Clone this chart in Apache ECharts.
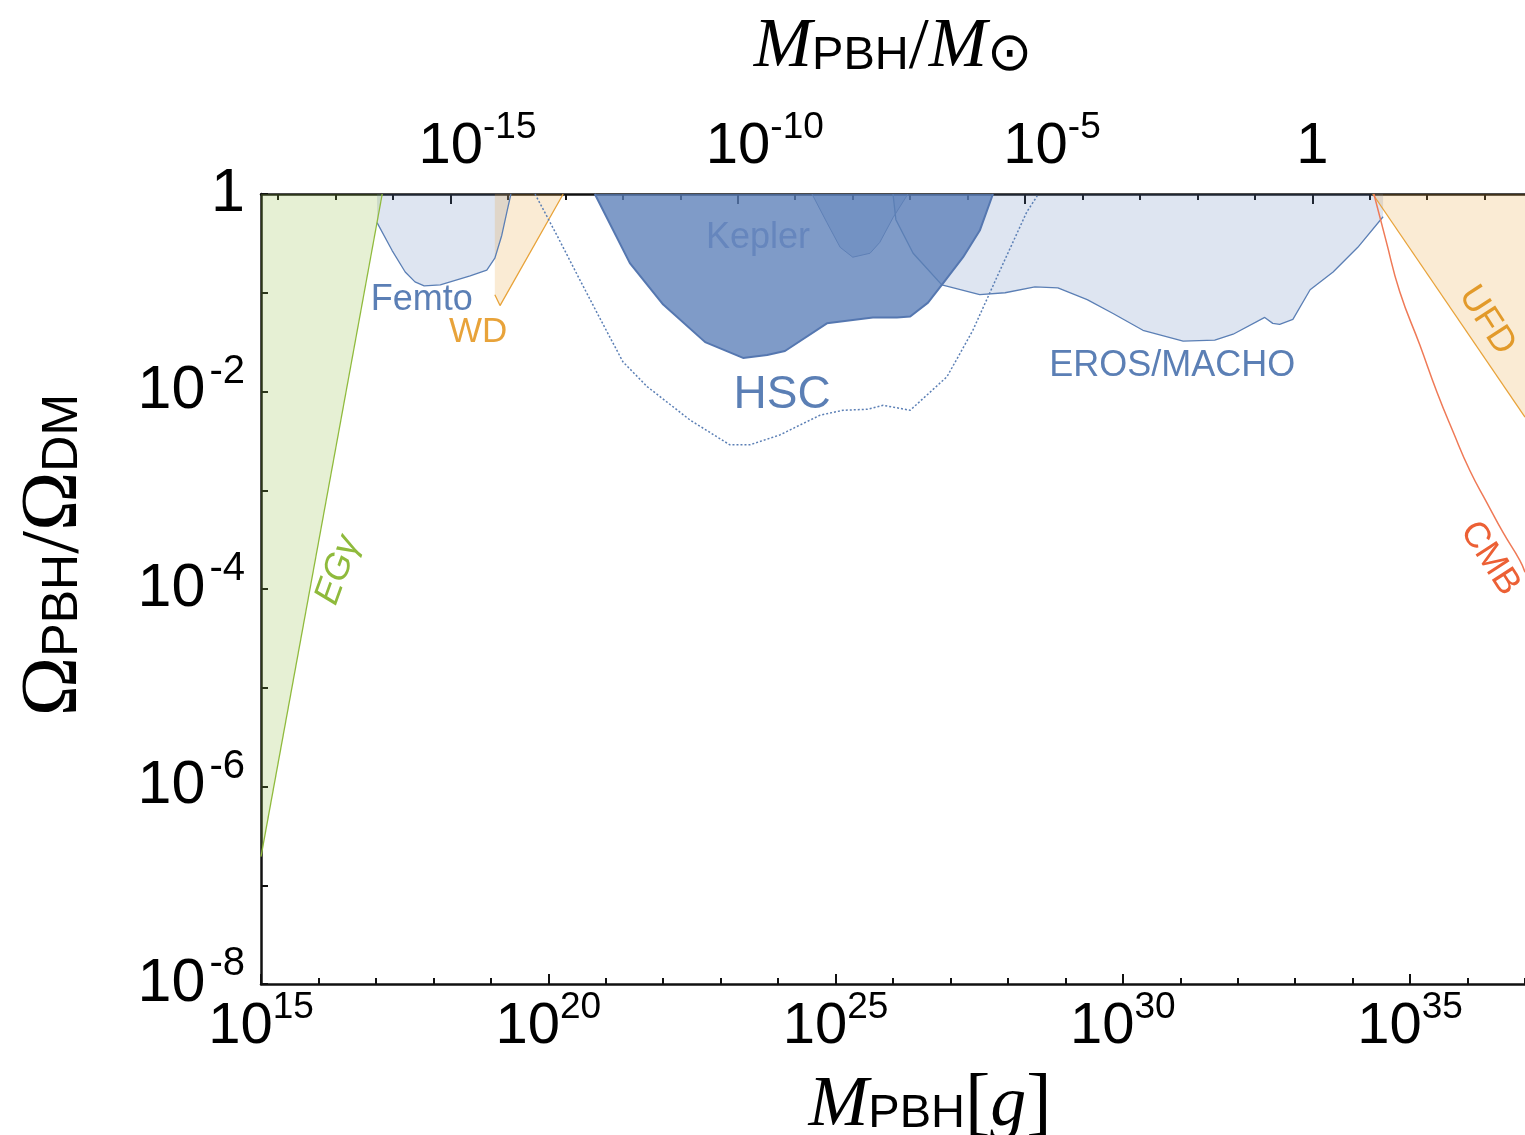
<!DOCTYPE html>
<html>
<head>
<meta charset="utf-8">
<script src="https://cdn.jsdelivr.net/npm/echarts@6/dist/echarts.min.js"></script>
<style>
html,body{margin:0;padding:0;background:#fff;}
#chart{width:1525px;height:1135px;}
</style>
</head>
<body>
<div id="chart"></div>
<script>
// all values are log10: x = log10(M_PBH / g), y = log10(Omega_PBH / Omega_DM)
var MSUN_LOG = 33.2986;   // log10(M_sun in g), for the top axis

var xTicksMain = [15, 20, 25, 30, 35];
var yTicksMain = [-8, -6, -4, -2, 0];
var topTicksMain = [-15, -10, -5, 0];
var topTicksAll = [-18,-17,-16,-15,-14,-13,-12,-11,-10,-9,-8,-7,-6,-5,-4,-3,-2,-1,0,1,2,3];

// extragalactic gamma rays
var egLogM = [15.0, 17.11];
var egLogF = [-6.71, 0];

// femtolensing
var femtoLogM = [17.02, 17.28, 17.51, 17.68, 17.84, 18.12, 18.64, 18.93, 19.07, 19.19, 19.28, 19.35];
var femtoLogF = [-0.29, -0.57, -0.79, -0.89, -0.93, -0.92, -0.83, -0.77, -0.65, -0.42, -0.18, 0];

// white dwarfs
var wdLogM = [19.07, 19.16, 20.26];
var wdLogF = [-1.02, -1.13, 0];

// HSC (solid region)
var hscLogM = [20.81, 21.42, 22.00, 22.73, 23.39, 23.81, 24.12, 24.85, 25.65, 26.07, 26.30, 26.61, 26.85, 27.22, 27.51, 27.74];
var hscLogF = [0, -0.70, -1.12, -1.50, -1.66, -1.63, -1.59, -1.31, -1.25, -1.25, -1.24, -1.10, -0.92, -0.64, -0.37, 0];

// Kepler
var keplerLogM = [24.59, 24.85, 25.08, 25.30, 25.60, 25.77, 26.00, 26.26];
var keplerLogF = [0, -0.29, -0.54, -0.64, -0.60, -0.49, -0.24, 0];

// EROS / MACHO
var erosLogM = [26.00, 26.05, 26.35, 26.85, 27.51, 27.95, 28.47, 28.87, 29.38, 29.83, 30.35, 31.05, 31.60, 31.92, 32.47, 32.61, 32.73, 32.96, 33.26, 33.66, 34.09, 34.53];
var erosLogF = [0, -0.26, -0.60, -0.92, -1.02, -1.00, -0.94, -0.95, -1.07, -1.21, -1.38, -1.49, -1.48, -1.42, -1.25, -1.31, -1.32, -1.27, -0.97, -0.79, -0.54, -0.23];

// HSC projection (dotted)
var hscDotLogM = [19.77, 20.17, 20.55, 20.90, 21.30, 21.72, 22.47, 23.16, 23.51, 24.03, 24.73, 25.13, 25.55, 25.83, 26.30, 26.94, 27.39, 27.81, 28.33, 28.51];
var hscDotLogF = [0, -0.44, -0.87, -1.26, -1.70, -1.95, -2.29, -2.54, -2.54, -2.44, -2.24, -2.19, -2.18, -2.14, -2.19, -1.85, -1.38, -0.84, -0.18, -0.02];

// ultra-faint dwarfs
var ufdLogM = [34.35, 37.0];
var ufdLogF = [0, -2.26];

// CMB
var cmbLogM = [34.37, 34.58, 34.82, 35.17, 35.47, 35.75, 36.04, 36.34, 36.62, 36.91, 37.0];
var cmbLogF = [0, -0.47, -0.99, -1.53, -2.01, -2.41, -2.80, -3.13, -3.43, -3.71, -3.83];

var BLUE = '#5b7fb5';
var ORANGE = '#e8a33a';
var GREEN = '#8fba3c';
var RED = '#ef7a57';

function pairs(xs, ys) {
    var out = [];
    for (var i = 0; i < xs.length; i++) {
        out.push([xs[i], ys[i]]);
    }
    return out;
}

function region(name, xs, ys, line, fill, lw) {
    return {
        name: name, type: 'line', data: pairs(xs, ys),
        xAxisIndex: 0, yAxisIndex: 0,
        symbol: 'none', silent: true,
        lineStyle: {color: line, width: lw || 1.3},
        areaStyle: {color: fill, origin: 'end', opacity: 1}
    };
}

var sans = 'Liberation Sans, Arial, Helvetica, sans-serif';
var serif = 'Liberation Serif, Times New Roman, serif';

var tickRich = {
    b: {fontSize: 58, fontFamily: sans, color: '#000'},
    p: {fontSize: 58, fontFamily: sans, color: '#000', padding: [0, 0, 0, 54]},
    s: {fontSize: 37, fontFamily: sans, color: '#000', padding: [0, 0, 38, 0]}
};
var yTickRich = {
    b: {fontSize: 61, fontFamily: sans, color: '#000'},
    s: {fontSize: 40, fontFamily: sans, color: '#000', padding: [0, 0, 40, 4]}
};

function nameStyles(big, sub) {
    return {
        first: {fontSize: big, fontFamily: serif, fontStyle: 'italic', color: '#000'},
        m: {fontSize: big, fontFamily: serif, fontStyle: 'italic', color: '#000'},
        o: {fontSize: big, fontFamily: serif, color: '#000'},
        sub: {fontSize: sub, fontFamily: sans, color: '#000', padding: [16, 0, 0, 0]},
        sl: {fontSize: big + 2, fontFamily: serif, color: '#000'},
        br: {fontSize: big + 4, fontFamily: serif, color: '#000'},
        sun: {fontSize: 54, fontFamily: 'DejaVu Sans', color: '#000', padding: [16, 0, 0, 0]}
    };
}

var bottomRich = nameStyles(72, 47);
bottomRich.first.padding = [0, 0, 0, 74];
var topRich = nameStyles(70, 47);
var leftRich = nameStyles(80, 50);
leftRich.first = {fontSize: 80, fontFamily: serif, color: '#000', padding: [0, 0, 0, 68]};

var axisLine = {show: true, onZero: false, lineStyle: {color: '#111', width: 2.5}};
var noLine = {show: false, onZero: false};
var tickLine = {color: '#111', width: 2};

var chart = echarts.init(document.getElementById('chart'));

var option = {
    animation: false,
    backgroundColor: '#fff',
    grid: [
        {left: 261, right: 0, top: 194, bottom: 151, containLabel: false, outerBoundsMode: 'none'},
        {left: 261, right: 0, top: 194, bottom: 151, containLabel: false, outerBoundsMode: 'none'}
    ],
    xAxis: [
        {
            type: 'value', gridIndex: 0, position: 'bottom',
            min: 15, max: 37, interval: 1,
            axisLine: axisLine,
            axisTick: {inside: true, length: 6, lineStyle: tickLine},
            splitLine: {show: false},
            axisLabel: {
                customValues: xTicksMain, margin: 5, rich: tickRich,
                formatter: function (v) { return '{b|10}{s|' + v + '}'; }
            },
            name: '{first|M}{sub|PBH}{br|[}{m|g}{br|]}',
            nameLocation: 'middle', nameGap: 84,
            nameTextStyle: {rich: bottomRich}
        },
        {
            type: 'value', gridIndex: 0, position: 'top',
            min: 15 - MSUN_LOG, max: 37 - MSUN_LOG,
            axisLine: axisLine,
            axisTick: {inside: true, length: 6, customValues: topTicksAll, lineStyle: tickLine},
            splitLine: {show: false},
            axisLabel: {
                customValues: topTicksMain, margin: 10, rich: tickRich,
                formatter: function (v) { return v === 0 ? '{b|1}{s|\u200b}' : '{p|10}{s|' + v + '}'; }
            },
            name: '{first|M}{sub|PBH}{sl|/}{m|M}{sun|⊙}',
            nameLocation: 'middle', nameGap: 110,
            nameTextStyle: {rich: topRich}
        },
        {
            type: 'value', gridIndex: 1, position: 'bottom',
            min: 15, max: 37,
            axisLine: noLine,
            axisTick: {inside: true, length: 10, customValues: xTicksMain, lineStyle: tickLine},
            splitLine: {show: false},
            axisLabel: {show: false}
        },
        {
            type: 'value', gridIndex: 1, position: 'top',
            min: 15 - MSUN_LOG, max: 37 - MSUN_LOG,
            axisLine: noLine,
            axisTick: {inside: true, length: 10, customValues: topTicksMain, lineStyle: tickLine},
            splitLine: {show: false},
            axisLabel: {show: false}
        }
    ],
    yAxis: [
        {
            type: 'value', gridIndex: 0,
            min: -8, max: 0, interval: 1,
            axisLine: axisLine,
            axisTick: {inside: true, length: 7, lineStyle: tickLine},
            splitLine: {show: false},
            axisLabel: {
                customValues: yTicksMain, margin: 16, rich: yTickRich,
                formatter: function (v) { return v === 0 ? '{b|1}' : '{b|10}{s|' + v + '}'; }
            },
            name: '{first|Ω}{sub|PBH}{sl|/}{o|Ω}{sub|DM}',
            nameLocation: 'middle', nameRotate: 90, nameGap: 165,
            nameTextStyle: {rich: leftRich}
        },
        {
            type: 'value', gridIndex: 1, show: false, min: -8, max: 0,
            axisLine: noLine
        }
    ],
    series: [
        region('EROS/MACHO', erosLogM, erosLogF, BLUE, 'rgba(91,127,184,0.2)'),
        region('Femto', femtoLogM, femtoLogF, BLUE, 'rgba(91,127,184,0.2)'),
        region('EGgamma', egLogM, egLogF, GREEN, 'rgba(143,186,60,0.22)'),
        region('WD', wdLogM, wdLogF, ORANGE, 'rgba(232,163,58,0.22)'),
        region('UFD', ufdLogM, ufdLogF, ORANGE, 'rgba(232,163,58,0.22)'),
        region('HSC', hscLogM, hscLogF, '#5577b0', 'rgba(91,127,184,0.78)', 2),
        region('Kepler', keplerLogM, keplerLogF, '#5f80b6', 'rgba(91,127,184,0.3)', 1),
        {
            name: 'HSC dotted', type: 'line', data: pairs(hscDotLogM, hscDotLogF),
            symbol: 'none', silent: true,
            lineStyle: {color: BLUE, width: 1.5, type: [2, 2]}
        },
        {
            name: 'CMB', type: 'line', data: pairs(cmbLogM, cmbLogF),
            symbol: 'none', silent: true, smooth: true,
            lineStyle: {color: RED, width: 1.5}
        }
    ]
};
chart.setOption(option);

// region labels, placed in data coordinates
var labels = [
    {text: 'Kepler', at: [23.65, -0.45], color: '#6686bd', size: 36, rot: 0},
    {text: 'Femto', at: [17.80, -1.07], color: BLUE, size: 36, rot: 0},
    {text: 'WD', at: [18.78, -1.40], color: ORANGE, size: 35, rot: 0},
    {text: 'HSC', at: [24.07, -2.04], color: BLUE, size: 46, rot: 0},
    {text: 'EROS/MACHO', at: [30.86, -1.74], color: BLUE, size: 36, rot: 0},
    {text: 'UFD', at: [36.34, -1.28], color: '#e29a2a', size: 36, rot: -57},
    {text: 'CMB', at: [36.39, -3.69], color: '#ec6035', size: 36, rot: -57},
    {text: 'EGγ', at: [16.34, -3.81], color: GREEN, size: 36, rot: 70, italic: true}
];

var graphics = labels.map(function (l) {
    var p = chart.convertToPixel({xAxisIndex: 0, yAxisIndex: 0}, l.at);
    return {
        type: 'text', x: p[0], y: p[1], rotation: l.rot * Math.PI / 180, silent: true, z: 100,
        style: {
            text: l.text, fill: l.color, fontSize: l.size, fontFamily: sans,
            fontStyle: l.italic ? 'italic' : 'normal',
            align: 'center', verticalAlign: 'middle'
        }
    };
});
chart.setOption({graphic: graphics});
</script>
</body>
</html>
